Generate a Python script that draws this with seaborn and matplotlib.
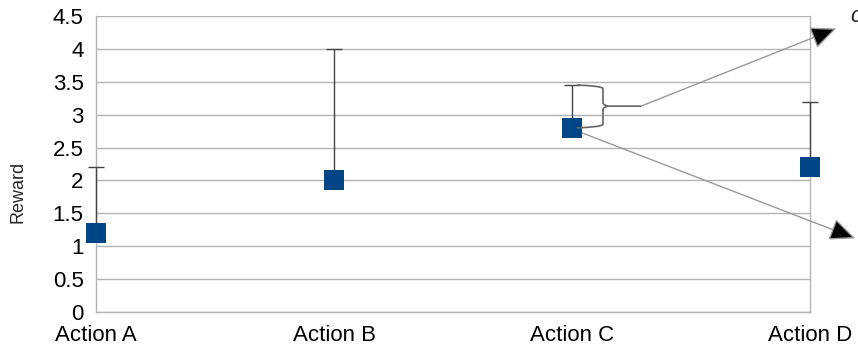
import numpy as np
import pandas as pd
import seaborn as sns
import matplotlib.pyplot as plt
from matplotlib.path import Path
from matplotlib.patches import PathPatch

# chart data
actions = ["Action A", "Action B", "Action C", "Action D"]
reward = [1.2, 2.0, 2.8, 2.2]
reward_upper = [2.2, 4.0, 3.45, 3.2]
y_ticks = [0, 0.5, 1, 1.5, 2, 2.5, 3, 3.5, 4, 4.5]
y_labels = ["0", "0.5", "1", "1.5", "2", "2.5", "3", "3.5", "4", "4.5"]

df = pd.DataFrame({"action": actions, "reward": reward, "upper": reward_upper})
df["pos"] = np.arange(len(df))

sns.set_style("white")
plt.rcParams["font.family"] = ["Liberation Sans", "DejaVu Sans"]

fig = plt.figure(figsize=(8.58, 3.48), dpi=100)
ax = fig.add_axes([0.1119, 0.1034, 0.8322, 0.8506])

grid_c = "#b3b3b3"
for t in y_ticks:
    ax.axhline(t, color=grid_c, lw=1, zorder=0)

# error bars (upper only), drawn above the spines
eb = ax.errorbar(df["pos"], df["reward"], yerr=[np.zeros(len(df)), df["upper"] - df["reward"]],
                 fmt="none", ecolor="#444444", elinewidth=1, capsize=6, capthick=1, zorder=3)
for art in eb.get_children():
    art.set_clip_on(False)
sns.scatterplot(data=df, x="pos", y="reward", marker="s", s=200, color="#004586",
                edgecolor="#004586", linewidth=0, ax=ax, zorder=4, clip_on=False)

ax.set_xlim(0, 3)
ax.set_ylim(0, 4.5)
ax.set_xticks(df["pos"])
ax.set_xticklabels(actions, fontsize=16)
ax.set_yticks(y_ticks)
ax.set_yticklabels(y_labels, fontsize=16)
ax.set_xlabel("")
ax.set_ylabel("Reward", fontsize=13)
ax.yaxis.set_label_coords(-0.098, 0.405)
ax.tick_params(axis="both", length=7, width=1, pad=2, colors="black")
ax.tick_params(axis="both", color=grid_c)
for side in ["left", "bottom", "right"]:
    ax.spines[side].set_color(grid_c)
    ax.spines[side].set_linewidth(1)
ax.spines["top"].set_visible(False)

# brace next to Action C error bar
bx0, bx1 = 2.02, 2.15
ytop, ybot, ymid = 3.45, 2.8, 3.13
verts = [(bx0, ytop), (bx0 + 0.10, ytop - 0.01), (bx0 + 0.11, ytop - 0.05),
         (bx0 + 0.11, ymid + 0.05), (bx0 + 0.11, ymid + 0.02), (bx0 + 0.13, ymid), (bx1 + 0.14, ymid),
         (bx0 + 0.13, ymid), (bx0 + 0.11, ymid - 0.02), (bx0 + 0.11, ymid - 0.05),
         (bx0 + 0.11, ybot + 0.05), (bx0 + 0.10, ybot + 0.01), (bx0, ybot)]
codes = [Path.MOVETO, Path.CURVE3, Path.CURVE3, Path.LINETO, Path.CURVE3, Path.CURVE3, Path.LINETO,
         Path.MOVETO, Path.CURVE3, Path.CURVE3, Path.LINETO, Path.CURVE3, Path.CURVE3]
ax.add_patch(PathPatch(Path(verts, codes), fill=False, edgecolor="#666666", lw=1.2, clip_on=False, zorder=4))

arrow_style = dict(arrowstyle="-|>,head_length=1.6,head_width=0.7", color="#999999", lw=1,
                   shrinkA=0, shrinkB=0)
a1 = ax.annotate("", xy=(3.11, 4.31), xytext=(2.29, 3.13), arrowprops=arrow_style,
                 annotation_clip=False)
a2 = ax.annotate("", xy=(3.19, 1.12), xytext=(2.03, 2.74), arrowprops=arrow_style,
                 annotation_clip=False)
for a in (a1, a2):
    a.arrow_patch.set_facecolor("black")
    a.arrow_patch.set_clip_on(False)

ax.text(3.17, 4.5, "c", fontsize=16, style="italic", ha="left", va="center", clip_on=False)

fig.savefig("out.png", dpi=100)
